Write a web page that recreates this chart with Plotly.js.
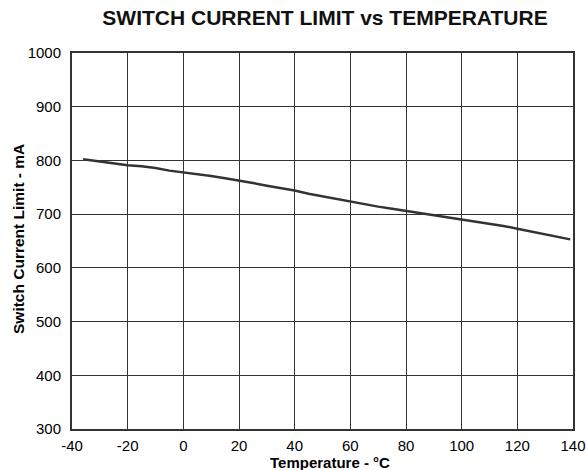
<!DOCTYPE html>
<html><head><meta charset="utf-8">
<script src="https://cdn.plot.ly/plotly-3.0.1.min.js"></script>
<style>body{margin:0;background:#fff}#c{width:586px;height:470px}</style>
</head><body><div id="c"></div>
<script>
const temperature = [-36,-30,-25,-20,-15,-10,-5,0,5,10,15,20,25,30,35,40,45,50,55,60,65,70,75,80,85,90,95,100,105,110,115,120,125,130,135,139];
const currentLimit = [802,798,794,791,789,786,781,778,775,771,767,763,758,753,749,744,738,733,728,723,719,714,710,706,702,698,695,691,687,682,678,673,668,663,658,653];
const xTicks = [-40,-20,0,20,40,60,80,100,120,140];
const yTicks = [300,400,500,600,700,800,900,1000];
const xTitle = 'Temperature - °C';
const yTitle = 'Switch Current Limit - mA';

Plotly.newPlot('c', [{
  x: temperature, y: currentLimit, type: 'scatter', mode: 'lines',
  line: {color: '#333333', width: 2.5}, hoverinfo: 'skip'
}], {
  width: 586, height: 470,
  margin: {l: 72, r: 13, t: 53, b: 41},
  paper_bgcolor: '#fff', plot_bgcolor: '#fff',
  font: {family: 'Liberation Sans, Arial, sans-serif', color: '#000', size: 15},
  title: {text: '<b>SWITCH CURRENT LIMIT vs TEMPERATURE</b>', xref: 'paper', x: 0.505, xanchor: 'center', y: 0.962, yanchor: 'middle', font: {size: 21, color: '#111'}},
  showlegend: false,
  xaxis: {
    range: [-40, 140], tickvals: xTicks, ticktext: xTicks.map(String),
    showgrid: true, gridcolor: '#333', gridwidth: 1, zeroline: false,
    showline: true, linecolor: '#333', linewidth: 2, mirror: true,
    ticks: '', tickfont: {size: 15}, ticklabelstandoff: 2
  },
  yaxis: {
    range: [300, 1000], tickvals: yTicks, ticktext: yTicks.map(String),
    showgrid: true, gridcolor: '#333', gridwidth: 1, zeroline: false,
    showline: true, linecolor: '#333', linewidth: 2, mirror: true,
    ticks: '', tickfont: {size: 15}, ticklabelstandoff: 6
  },
  annotations: [
    {text: '<b>' + xTitle + '</b>', xref: 'paper', yref: 'paper', x: 0.515, y: -0.09, xanchor: 'center', yanchor: 'middle', showarrow: false, font: {size: 15}},
    {text: '<b>' + yTitle + '</b>', xref: 'paper', yref: 'paper', x: -0.108, y: 0.505, xanchor: 'center', yanchor: 'middle', textangle: -90, showarrow: false, font: {size: 15.5}}
  ]
}, {displayModeBar: false, staticPlot: true});
</script></body></html>
